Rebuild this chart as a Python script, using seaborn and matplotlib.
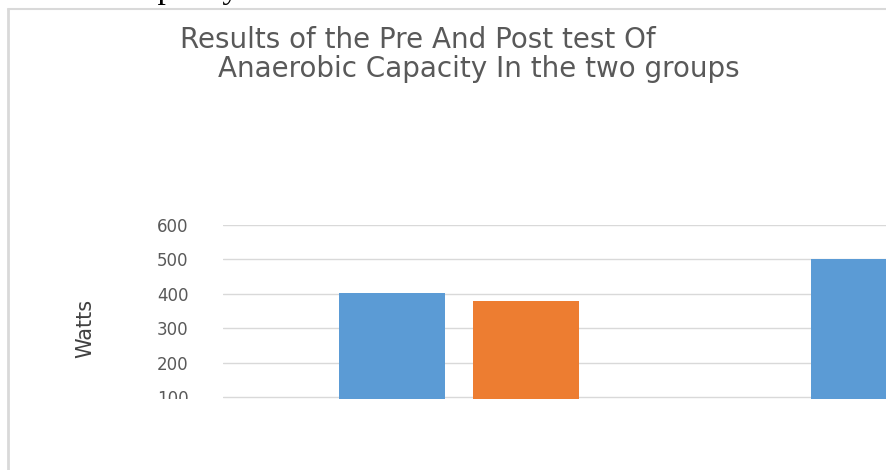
import pandas as pd
import matplotlib
matplotlib.use("Agg")
import matplotlib.pyplot as plt
from matplotlib.patches import Rectangle
from matplotlib.lines import Line2D
import seaborn as sns

# data (second group's post bar lies outside the crop)
groups = ["Experimental", "Control"]
tests = ["Pre", "Post"]
pre_watts = [403, 500]
post_watts = [378, 470]
y_ticks = [100, 200, 300, 400, 500, 600]

df = pd.DataFrame({
    "group": groups * 2,
    "test": [tests[0]] * len(groups) + [tests[1]] * len(groups),
    "watts": pre_watts + post_watts,
})

sns.set_style("white")
plt.rcParams['font.family'] = ['DejaVu Sans']

fig = plt.figure(figsize=(8.86, 4.7), dpi=100)
# plot area runs past the right edge, as in the cropped screenshot
ax = fig.add_axes([223 / 886, 71.3 / 470, 944 / 886, 173.7 / 470])

sns.barplot(data=df, x="group", y="watts", hue="test",
            palette=["#5B9BD5", "#ED7D31"], saturation=1,
            width=0.568, gap=0.216,
            errorbar=None, legend=False, linewidth=0, ax=ax)

ax.set_ylim(95, 600)
ax.set_yticks(y_ticks)
ax.set_xlim(-0.5, 1.5)
ax.yaxis.grid(True, color="#d9d9d9", linewidth=1)
ax.set_axisbelow(True)
for s in ax.spines.values():
    s.set_visible(False)
ax.tick_params(axis="y", length=0, pad=25, labelsize=12, labelcolor="#595959")
ax.tick_params(axis="x", length=0, labelbottom=False)
ax.set_xlabel("")
ax.set_ylabel("")

fig.text(85 / 886, 142 / 470, "Watts", rotation=90, ha="center", va="center",
         fontsize=15, color="#404040")

# title, cut by the right edge of the screenshot
fig.text(180 / 886, 1 - 26 / 470, "Results of the Pre And Post test Of",
         ha="left", va="top", fontsize=20, color="#595959")
fig.text(218 / 886, 1 - 55 / 470, "Anaerobic Capacity In the two groups",
         ha="left", va="top", fontsize=20, color="#595959")

# bit of the document text above the chart
fig.text(129 / 886, 1 + 2 / 470, "capacity", ha="left", va="baseline",
         fontsize=24, color="black", family=["Liberation Serif", "DejaVu Serif"])

# lower part of the chart hidden in the screenshot
fig.patches.append(Rectangle((9 / 886, 0), 1, 71.5 / 470, transform=fig.transFigure,
                             facecolor="white", edgecolor="none", zorder=10))

# chart frame
fig.lines.append(Line2D([8 / 886, 8 / 886], [0, 1 - 9 / 470], transform=fig.transFigure,
                        color="#d9d9d9", linewidth=2, zorder=11))
fig.lines.append(Line2D([8 / 886, 1], [1 - 9 / 470, 1 - 9 / 470], transform=fig.transFigure,
                        color="#d9d9d9", linewidth=1.5, zorder=11))

fig.savefig("out.png", dpi=100)
plt.close(fig)
